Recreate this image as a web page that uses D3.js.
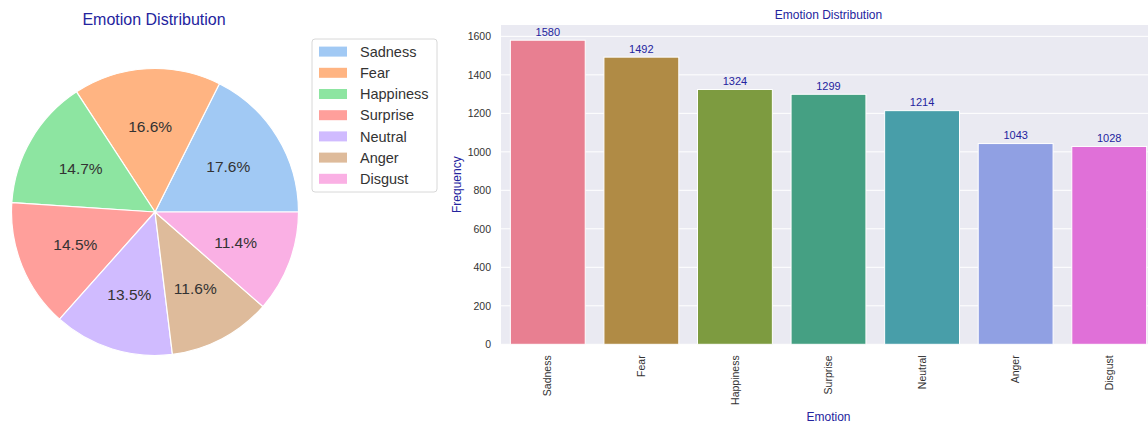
<!DOCTYPE html>
<html>
<head>
<meta charset="utf-8">
<script src="https://cdn.jsdelivr.net/npm/d3@7/dist/d3.min.js"></script>
<style>
  html, body { margin: 0; padding: 0; background: #ffffff; }
  svg { display: block; font-family: "Liberation Sans", Arial, sans-serif; }
</style>
</head>
<body>
<svg id="chart" width="1148" height="423"></svg>
<script>
// Emotion labels and how often each occurs
const emotions = ["Sadness", "Fear", "Happiness", "Surprise", "Neutral", "Anger", "Disgust"];
const counts = [1580, 1492, 1324, 1299, 1214, 1043, 1028];

// Pastel palette for the pie, desaturated husl palette for the bars
const pieColors = ["#a1c9f4", "#ffb482", "#8de5a1", "#ff9f9b", "#d0bbff", "#debb9b", "#fab0e4"];
const barColors = ["#e87f91", "#b08b45", "#7d9b40", "#45a083", "#489ea9", "#90a0e3", "#e070d8"];

// Frequency axis ticks
const yTicks = [0, 200, 400, 600, 800, 1000, 1200, 1400, 1600];

const titleColor = "#24249e";
const svg = d3.select("#chart");

// ---------- Pie chart ----------
const cx = 155, cy = 212, r = 143.5;
const total = d3.sum(counts);
const pie = d3.pie().sort(null)
  .startAngle(Math.PI / 2)
  .endAngle(Math.PI / 2 - 2 * Math.PI);
const arcs = pie(counts);
const arc = d3.arc().innerRadius(0).outerRadius(r);
const labelArc = d3.arc().innerRadius(r * 0.6).outerRadius(r * 0.6);

const pg = svg.append("g").attr("transform", `translate(${cx},${cy})`);
pg.selectAll("path").data(arcs).join("path")
  .attr("d", arc)
  .attr("fill", (d, i) => pieColors[i])
  .attr("stroke", "#ffffff")
  .attr("stroke-width", 1.2)
  .attr("stroke-linejoin", "round");

pg.selectAll("text.pct").data(arcs).join("text")
  .attr("class", "pct")
  .attr("transform", d => `translate(${labelArc.centroid(d)})`)
  .attr("text-anchor", "middle")
  .attr("dy", "0.36em")
  .attr("font-size", 15.5)
  .attr("fill", "#333333")
  .text(d => (d.value / total * 100).toFixed(1) + "%");

svg.append("text")
  .attr("x", 154).attr("y", 25)
  .attr("text-anchor", "middle")
  .attr("font-size", 16)
  .attr("fill", titleColor)
  .text("Emotion Distribution");

// Legend
const lg = svg.append("g");
lg.append("rect")
  .attr("x", 312).attr("y", 39).attr("width", 125).attr("height", 153)
  .attr("rx", 3).attr("fill", "#ffffff").attr("stroke", "#d8d8d8");
emotions.forEach((e, i) => {
  const yy = 51.6 + i * 21.2;
  lg.append("rect")
    .attr("x", 319).attr("y", yy - 5).attr("width", 28).attr("height", 10)
    .attr("fill", pieColors[i]);
  lg.append("text")
    .attr("x", 360).attr("y", yy).attr("dy", "0.36em")
    .attr("font-size", 14.5).attr("fill", "#333333")
    .text(e);
});

// ---------- Bar chart ----------
const plotLeft = 501, plotRight = 1156, plotTop = 25, plotBottom = 344.3;
const x = d3.scaleBand().domain(emotions).range([plotLeft, plotRight])
  .paddingInner(0.2).paddingOuter(0.1);
const y = d3.scaleLinear().domain([0, 1659]).range([plotBottom, plotTop]);

const bg = svg.append("g");
bg.append("rect")
  .attr("x", plotLeft).attr("y", plotTop)
  .attr("width", plotRight - plotLeft).attr("height", plotBottom - plotTop)
  .attr("fill", "#eaeaf2");

bg.selectAll("line.grid").data(yTicks).join("line")
  .attr("class", "grid")
  .attr("x1", plotLeft).attr("x2", plotRight)
  .attr("y1", d => y(d)).attr("y2", d => y(d))
  .attr("stroke", "#ffffff").attr("stroke-width", 1);

bg.selectAll("rect.bar").data(counts).join("rect")
  .attr("class", "bar")
  .attr("x", (d, i) => x(emotions[i]))
  .attr("y", d => y(d))
  .attr("width", x.bandwidth())
  .attr("height", d => y(0) - y(d))
  .attr("fill", (d, i) => barColors[i])
  .attr("stroke", "#ffffff").attr("stroke-width", 1);

bg.selectAll("text.val").data(counts).join("text")
  .attr("class", "val")
  .attr("x", (d, i) => x(emotions[i]) + x.bandwidth() / 2)
  .attr("y", d => y(d) - 4.5)
  .attr("text-anchor", "middle")
  .attr("font-size", 11)
  .attr("fill", titleColor)
  .text(d => d);

// Y axis (labels only, seaborn darkgrid style)
const yAxis = d3.axisLeft(y).tickValues(yTicks).tickFormat(d3.format("d"))
  .tickSize(0).tickPadding(10);
const yg = svg.append("g").attr("transform", `translate(${plotLeft},0)`).call(yAxis);
yg.select(".domain").remove();
yg.selectAll("text").attr("font-size", 10.5).attr("fill", "#333333")
  .attr("font-family", "'Liberation Sans', Arial, sans-serif");

// X axis with vertical labels
const xAxis = d3.axisBottom(x).tickSize(0).tickPadding(0);
const xg = svg.append("g").attr("transform", `translate(0,${plotBottom})`).call(xAxis);
xg.select(".domain").remove();
xg.selectAll("text")
  .attr("font-size", 10.5).attr("fill", "#333333")
  .attr("font-family", "'Liberation Sans', Arial, sans-serif")
  .attr("text-anchor", "end")
  .attr("transform", "rotate(-90)")
  .attr("x", -11).attr("y", 0).attr("dy", "0.35em");

// Chart title and axis titles
svg.append("text")
  .attr("x", (plotLeft + plotRight) / 2).attr("y", 19)
  .attr("text-anchor", "middle")
  .attr("font-size", 12)
  .attr("fill", titleColor)
  .text("Emotion Distribution");

svg.append("text")
  .attr("x", (plotLeft + plotRight) / 2).attr("y", 420.5)
  .attr("text-anchor", "middle")
  .attr("font-size", 12)
  .attr("fill", titleColor)
  .text("Emotion");

svg.append("text")
  .attr("transform", `translate(461,${(plotTop + plotBottom) / 2}) rotate(-90)`)
  .attr("text-anchor", "middle")
  .attr("font-size", 12)
  .attr("fill", titleColor)
  .text("Frequency");
</script>
</body>
</html>
